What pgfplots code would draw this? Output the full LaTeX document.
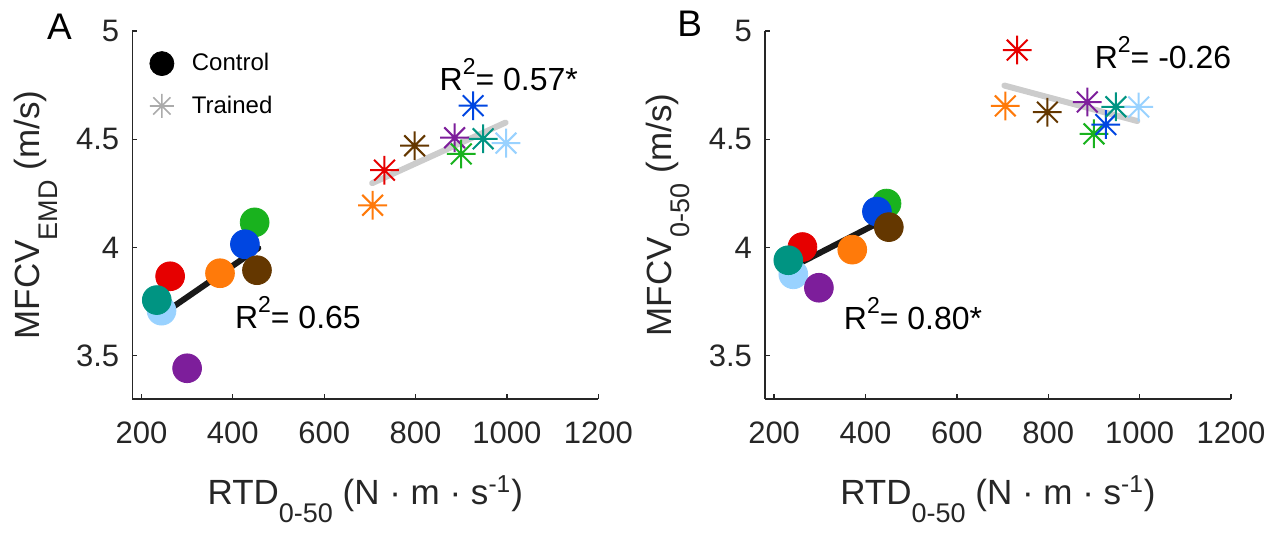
\documentclass[border=0pt]{standalone}
\usepackage{fontspec}
\setmainfont{Liberation Sans}
\usepackage{pgfplots}
\pgfplotsset{compat=1.18}

\definecolor{cRed}{RGB}{230,0,0}
\definecolor{cTeal}{RGB}{0,148,130}
\definecolor{cLBlue}{RGB}{153,210,255}
\definecolor{cPurple}{RGB}{125,30,155}
\definecolor{cOrange}{RGB}{255,122,10}
\definecolor{cBlue}{RGB}{0,70,225}
\definecolor{cGreen}{RGB}{25,178,30}
\definecolor{cBrown}{RGB}{100,55,0}
\definecolor{axgray}{RGB}{38,38,38}
\definecolor{fitgray}{RGB}{204,204,204}

% MATLAB-like asterisk: + and x together
\pgfdeclareplotmark{ast8}{%
  \pgfpathmoveto{\pgfqpoint{-\pgfplotmarksize}{0pt}}%
  \pgfpathlineto{\pgfqpoint{\pgfplotmarksize}{0pt}}%
  \pgfpathmoveto{\pgfqpoint{0pt}{-\pgfplotmarksize}}%
  \pgfpathlineto{\pgfqpoint{0pt}{\pgfplotmarksize}}%
  \pgfpathmoveto{\pgfqpoint{-0.72\pgfplotmarksize}{-0.72\pgfplotmarksize}}%
  \pgfpathlineto{\pgfqpoint{0.72\pgfplotmarksize}{0.72\pgfplotmarksize}}%
  \pgfpathmoveto{\pgfqpoint{-0.72\pgfplotmarksize}{0.72\pgfplotmarksize}}%
  \pgfpathlineto{\pgfqpoint{0.72\pgfplotmarksize}{-0.72\pgfplotmarksize}}%
  \pgfusepathqstroke}

\newcommand{\sub}[1]{\raisebox{-9pt}{\fontsize{13.5}{14}\selectfont #1}}
\newcommand{\rsq}{R\raisebox{0.5em}{\fontsize{11.5}{12}\selectfont 2}}
\tikzset{rtxt/.style={anchor=base west, inner sep=0pt, font=\fontsize{16}{18}\selectfont}}

\pgfplotsset{
  panel/.style={
    scale only axis, width=233pt, height=184pt, anchor=south west,
    xmin=180, xmax=1200, ymin=3.3, ymax=5,
    xtick={200,400,...,1200}, ytick={3.5,4,4.5,5},
    axis x line*=bottom, axis y line*=left,
    axis line style={-, axgray, line width=0.65pt},
    major tick style={axgray, line width=0.65pt},
    major tick length=2.6pt, tick align=inside,
    scaled ticks=false,
    /pgf/number format/1000 sep={},
    /pgf/number format/assume math mode=true,
    tick label style={font=\fontsize{15.5}{17}\selectfont, text=axgray},
    yticklabel style={xshift=-3pt},
    xticklabel style={yshift=-8pt},
    label style={font=\fontsize{17.5}{20}\selectfont, text=axgray},
    xlabel style={at={(axis description cs:0.5,-0.287)}, anchor=base},
    ylabel style={at={(axis description cs:-0.255,0.5)}, anchor=north, inner sep=0pt},
    xlabel={RTD\sub{0-50} (N · m · s\textsuperscript{-1})},
    clip=false,
  },
  ctrl/.style={only marks, mark=*, mark size=7.2pt, forget plot},
  trn/.style={only marks, mark=ast8, mark size=7.2pt, line width=1pt, forget plot},
  fitc/.style={no marks, line width=3pt, color=black!90, line cap=round, forget plot},
  fitt/.style={no marks, line width=3pt, color=fitgray, line cap=round, forget plot},
}

\begin{document}
\begin{tikzpicture}
\useasboundingbox (0,0) rectangle (641pt,266pt);

% ---------- panel A ----------
\begin{axis}[panel, at={(66.15pt,66.5pt)},
  ylabel={MFCV\sub{EMD} (m/s)},
  legend style={draw=none, fill=none, at={(rel axis cs:0.024,0.962)}, anchor=north west,
    font=\fontsize{12}{14}\selectfont, row sep=7pt},
  legend cell align=left,
  legend image code/.code={\draw[#1] plot coordinates {(0pt,0pt)};
    \path[draw=none, fill=none] (0pt,0pt) rectangle (13pt,0.1pt);},
]
\addplot[ctrl, cLBlue]  coordinates {(244,3.708)};
\addplot[ctrl, cRed]    coordinates {(262.8,3.867)};
\addplot[ctrl, cPurple] coordinates {(300,3.442)};
\addplot[ctrl, cOrange] coordinates {(372,3.881)};
\addplot[ctrl, cGreen]  coordinates {(447.8,4.116)};
\addplot[ctrl, cBlue]   coordinates {(426.5,4.015)};
\addplot[ctrl, cBrown]  coordinates {(452.9,3.895)};
\addplot[ctrl, cTeal]   coordinates {(233.6,3.757)};
\addplot[fitc] coordinates {(236.5,3.678) (455.8,3.997)};

\addplot[trn, cOrange] coordinates {(706,4.195)};
\addplot[trn, cRed]    coordinates {(732,4.357)};
\addplot[trn, cBrown]  coordinates {(798,4.470)};
\addplot[trn, cPurple] coordinates {(885.5,4.507)};
\addplot[trn, cGreen]  coordinates {(900,4.432)};
\addplot[trn, cBlue]   coordinates {(926,4.655)};
\addplot[trn, cTeal]   coordinates {(948,4.502)};
\addplot[trn, cLBlue]  coordinates {(998,4.482)};
\addplot[fitt] coordinates {(705,4.297) (997,4.577)};

\node[rtxt] at (axis cs:852,4.723) {\rsq= 0.57*};
\node[rtxt] at (axis cs:404,3.625) {\rsq= 0.65};

\addlegendimage{only marks, mark=*, mark size=6pt, black}
\addlegendentry{Control}
\addlegendimage{only marks, mark=ast8, mark size=6pt, line width=0.8pt, black!33}
\addlegendentry{Trained}
\end{axis}

% ---------- panel B ----------
\begin{axis}[panel, at={(382.5pt,66.5pt)},
  ylabel={MFCV\sub{0-50} (m/s)},
]
\addplot[ctrl, cLBlue]  coordinates {(242,3.876)};
\addplot[ctrl, cRed]    coordinates {(262,4.002)};
\addplot[ctrl, cPurple] coordinates {(298,3.814)};
\addplot[ctrl, cOrange] coordinates {(371,3.990)};
\addplot[ctrl, cGreen]  coordinates {(446,4.203)};
\addplot[ctrl, cBlue]   coordinates {(425,4.166)};
\addplot[ctrl, cBrown]  coordinates {(451,4.094)};
\addplot[ctrl, cTeal]   coordinates {(231,3.941)};
\addplot[fitc] coordinates {(240,3.910) (452,4.140)};

\addplot[trn, cOrange] coordinates {(706,4.654)};
\addplot[trn, cRed]    coordinates {(732,4.912)};
\addplot[trn, cBrown]  coordinates {(798,4.625)};
\addplot[trn, cPurple] coordinates {(885.5,4.672)};
\addplot[trn, cGreen]  coordinates {(900,4.525)};
\addplot[trn, cBlue]   coordinates {(926,4.568)};
\addplot[trn, cTeal]   coordinates {(948,4.650)};
\addplot[trn, cLBlue]  coordinates {(998,4.649)};
\addplot[fitt] coordinates {(704,4.748) (995,4.584)};

\node[rtxt] at (axis cs:901,4.825) {\rsq= -0.26};
\node[rtxt] at (axis cs:352,3.622) {\rsq= 0.80*};
\end{axis}

\node[anchor=base west, font=\fontsize{18.5}{20}\selectfont, inner sep=0pt] at (23.3pt,246.4pt) {A};
\node[anchor=base west, font=\fontsize{18.5}{20}\selectfont, inner sep=0pt] at (338.5pt,247.5pt) {B};
\end{tikzpicture}
\end{document}
